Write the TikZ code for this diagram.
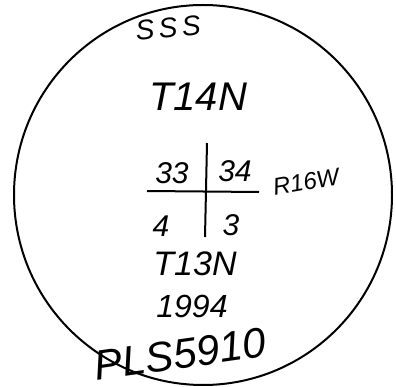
\documentclass[tikz,border=0pt]{standalone}
\usepackage{fontspec}
\setmainfont{Liberation Sans}
\begin{document}
\begin{tikzpicture}[x=1pt,y=-1pt,
  hand/.style={font=\itshape, inner sep=0pt, anchor=center},
  ink/.style={line width=2pt}]
\useasboundingbox (0,0) rectangle (396,387);
\draw[ink] (203,195) ellipse [x radius=189, y radius=190];
\node[hand, font=\itshape\fontsize{28}{28}\selectfont, rotate=6] (sss) at (168,28) {S\,S\,S};
\node[hand, font=\itshape\fontsize{40}{40}\selectfont] (t14) at (198,97) {T14N};
\node[hand, font=\itshape\fontsize{30}{30}\selectfont] (n33) at (172,173) {33};
\node[hand, font=\itshape\fontsize{30}{30}\selectfont] (n34) at (235,171) {34};
\node[hand, font=\itshape\fontsize{24}{24}\selectfont, rotate=10] (r16) at (306,182) {R16W};
\node[hand, font=\itshape\fontsize{30}{30}\selectfont] (n4) at (161,226) {4};
\node[hand, font=\itshape\fontsize{30}{30}\selectfont] (n3) at (231,225) {3};
\node[hand, font=\itshape\fontsize{34}{34}\selectfont] (t13) at (195,264) {T13N};
\node[hand, font=\itshape\fontsize{32}{32}\selectfont] (yr) at (192,306) {1994};
\node[hand, font=\itshape\fontsize{42}{42}\selectfont, rotate=8] (pls) at (180,354) {PLS5910};
\coordinate (vt) at (207,143);
\coordinate (vb) at (205,237);
\coordinate (hl) at (147,191);
\coordinate (hr) at (259,192);
\draw[ink] (vt) -- (vb);
\draw[ink] (hl) -- (hr);
\end{tikzpicture}
\end{document}
